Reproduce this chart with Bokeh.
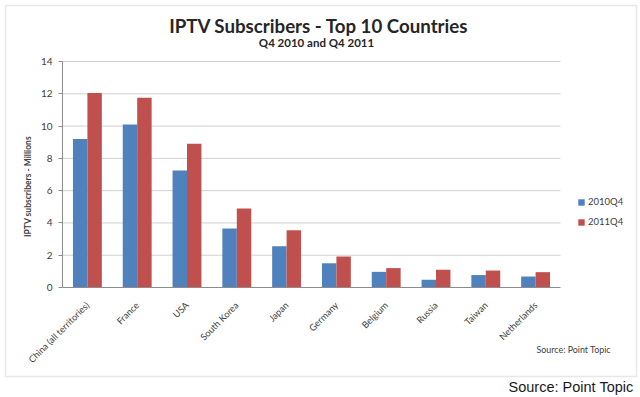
import math
from bokeh.plotting import figure
from bokeh.models import (ColumnDataSource, FixedTicker, Label, BoxAnnotation, Legend,
                          LegendItem, Range1d)
from bokeh.transform import dodge
from bokeh.embed import file_html
from bokeh.resources import INLINE

countries = ["China (all territories)", "France", "USA", "South Korea", "Japan",
             "Germany", "Belgium", "Russia", "Taiwan", "Netherlands"]
q4_2010 = [9.2, 10.1, 7.25, 3.65, 2.55, 1.5, 0.97, 0.48, 0.77, 0.68]
q4_2011 = [12.05, 11.75, 8.9, 4.9, 3.55, 1.92, 1.2, 1.1, 1.05, 0.95]
series_names = ["2010Q4", "2011Q4"]
y_ticks = [0, 2, 4, 6, 8, 10, 12, 14]

title_text = "IPTV Subscribers - Top 10 Countries"
subtitle_text = "Q4 2010 and Q4 2011"
y_title = "IPTV subscribers - Millions"
source_text = "Source: Point Topic"

BLUE = "#4F81BD"
RED = "#C0504D"
FONT = "Lato"

W, H = 640, 397
n = len(countries)
x_pos = [i + 0.5 for i in range(n)]
src = ColumnDataSource(dict(x=x_pos, a=q4_2010, b=q4_2011))

# frame covers the whole canvas; axes are pinned at 0 with fixed_location
PX_X = 49.8        # pixels per category
PX_Y = 226 / 14    # pixels per million
AX_L, AX_B = 62, 287   # page position of the data origin
p = figure(width=W, height=H, output_backend="svg", toolbar_location=None,
           min_border=0,
           x_range=Range1d(-AX_L / PX_X, (W - AX_L) / PX_X),
           y_range=Range1d(-(H - AX_B) / PX_Y, AX_B / PX_Y))
p.outline_line_color = None
p.xgrid.visible = False
p.ygrid.visible = False

# gridlines limited to the plot area
p.segment(x0=0, x1=n, y0=y_ticks[1:], y1=y_ticks[1:], line_color="#D0D0D0", line_width=1)

r1 = p.vbar(x=dodge("x", -0.145), top="a", width=0.29, source=src,
            fill_color=BLUE, line_color=None)
r2 = p.vbar(x=dodge("x", 0.145), top="b", width=0.29, source=src,
            fill_color=RED, line_color=None)

yax = p.yaxis[0]
yax.fixed_location = 0
yax.bounds = (0, 14)
yax.ticker = FixedTicker(ticks=y_ticks)
yax.minor_tick_line_color = None
yax.major_tick_out = 4
yax.major_tick_in = 0
yax.major_tick_line_color = "#8C8C8C"
yax.axis_line_color = "#8C8C8C"
yax.major_label_text_font = FONT
yax.major_label_text_font_size = "10px"
yax.major_label_text_color = "#404040"
yax.major_label_standoff = 6

xax = p.xaxis[0]
xax.fixed_location = 0
xax.bounds = (0, n)
xax.ticker = FixedTicker(ticks=x_pos)
xax.major_label_overrides = {x: c for x, c in zip(x_pos, countries)}
xax.axis_line_color = "#8C8C8C"
xax.major_tick_line_color = None
xax.minor_tick_line_color = None
xax.major_label_orientation = math.pi / 4
xax.major_label_text_font = FONT
xax.major_label_text_font_size = "9.2px"
xax.major_label_text_color = "#404040"
xax.major_label_standoff = 10

# page coords -> frame screen coords (frame == canvas)
def sx(X):
    return X

def sy(Y):
    return H - Y

p.add_layout(BoxAnnotation(left=sx(5), right=sx(636), top=sy(5), bottom=sy(376),
                           left_units="screen", right_units="screen",
                           top_units="screen", bottom_units="screen",
                           fill_alpha=0, line_color="#B4B4B4", line_width=1.5))

p.add_layout(Label(x=sx(318.5), y=sy(25), x_units="screen", y_units="screen",
                   text=title_text, text_font=FONT, text_font_size="18.7px",
                   text_font_style="bold", text_color="#262626",
                   text_align="center", text_baseline="middle"))
p.add_layout(Label(x=sx(316), y=sy(41.5), x_units="screen", y_units="screen",
                   text=subtitle_text, text_font=FONT, text_font_size="11.5px",
                   text_font_style="bold", text_color="#262626",
                   text_align="center", text_baseline="middle"))
p.add_layout(Label(x=sx(27), y=sy(186), x_units="screen", y_units="screen",
                   text=y_title, text_font=FONT, text_font_size="8.5px",
                   text_font_style="bold", text_color="#404040", angle=math.pi / 2,
                   text_align="center", text_baseline="middle"))
p.add_layout(Label(x=sx(536), y=sy(349), x_units="screen", y_units="screen",
                   text=source_text, text_font=FONT, text_font_size="8.9px",
                   text_color="#404040", text_align="left", text_baseline="middle"))
p.add_layout(Label(x=sx(633), y=sy(386), x_units="screen", y_units="screen",
                   text=source_text, text_font="Liberation Sans", text_font_size="14.5px",
                   text_color="#1a1a1a", text_align="right", text_baseline="middle"))

legend = Legend(items=[LegendItem(label=series_names[0], renderers=[r1]),
                       LegendItem(label=series_names[1], renderers=[r2])],
                location=(sx(577), sy(227)), orientation="vertical",
                glyph_width=8, glyph_height=8, label_height=10, spacing=9,
                padding=0, margin=0, label_standoff=3,
                label_text_font=FONT, label_text_font_size="9.5px",
                label_text_color="#404040",
                border_line_color=None, background_fill_alpha=0)
p.add_layout(legend)

open("out.html", "w").write(file_html(p, INLINE))
